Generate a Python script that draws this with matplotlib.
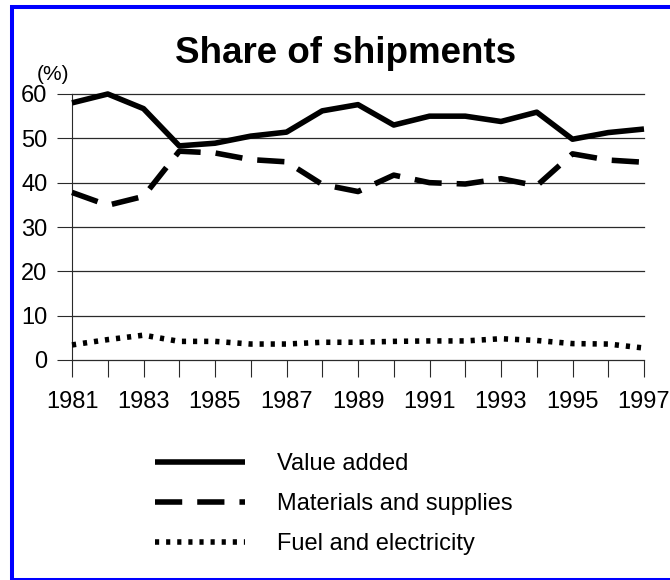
import matplotlib
matplotlib.use("Agg")
import matplotlib.pyplot as plt
from matplotlib.lines import Line2D

plt.rcParams['font.family'] = ['Liberation Sans', 'DejaVu Sans']

years = list(range(1981, 1998))
value_added = [58, 60, 56.7, 48.3, 48.9, 50.5, 51.4, 56.2, 57.6, 53, 55, 55, 53.8, 55.9, 49.8, 51.3, 52.1]
materials = [37.8, 34.9, 36.9, 47.1, 46.7, 45.2, 44.7, 39.6, 38, 41.7, 40, 39.7, 40.9, 39.3, 46.5, 45.1, 44.6]
fuel = [3.4, 4.6, 5.6, 4.2, 4.2, 3.6, 3.6, 4.0, 4.0, 4.2, 4.3, 4.3, 4.8, 4.4, 3.7, 3.6, 2.7]
series_labels = ["Value added", "Materials and supplies", "Fuel and electricity"]
title = "Share of shipments"
yticks = [0, 10, 20, 30, 40, 50, 60]

W, H = 670, 580
fig = plt.figure(figsize=(W / 100, H / 100), dpi=100)

def px(x0, y0, x1, y1):
    return [x0 / W, 1 - y1 / H, (x1 - x0) / W, (y1 - y0) / H]

ax = fig.add_axes(px(72, 94, 644, 360))
lw = 4.0
grid_c = '#2a2a2a'

ax.plot(years, fuel, color='black', lw=lw, linestyle=(0, (0.75, 1.25)),
        dash_capstyle='butt', clip_on=False, zorder=3, label=series_labels[2])
ax.plot(years, materials, color='black', lw=lw, linestyle=(0, (4.9, 2.7)),
        dash_capstyle='butt', clip_on=False, zorder=3, label=series_labels[1])
ax.plot(years, value_added, color='black', lw=lw, solid_capstyle='butt',
        clip_on=False, zorder=4, label=series_labels[0])

ax.set_xlim(years[0], years[-1])
ax.set_ylim(0, 60)
ax.set_yticks(yticks)
ax.set_yticklabels([str(v) for v in yticks])
ax.set_xticks(years)
ax.set_xticklabels([str(y) if (y - years[0]) % 2 == 0 else '' for y in years])

for s in ['top', 'right', 'bottom']:
    ax.spines[s].set_visible(False)
ax.spines['left'].set_color(grid_c)
ax.spines['left'].set_linewidth(0.8)

ax.yaxis.grid(True, color=grid_c, lw=0.9)
ax.set_axisbelow(True)
for gl in ax.yaxis.get_gridlines():
    gl.set_clip_on(False)

ax.tick_params(axis='y', length=10.8, width=0.8, color=grid_c, pad=7, labelsize=17)
ax.tick_params(axis='x', length=12.2, width=0.8, color=grid_c, pad=10, labelsize=17)

# unit label and title
fig.text(53 / W, 1 - 74 / H, "(%)", fontsize=15, ha='center', va='center')
fig.text(346 / W, 1 - 63 / H, title, fontsize=26.5, fontweight='bold',
         ha='center', va='baseline')

# legend
handles, labels = ax.get_legend_handles_labels()
order = [2, 1, 0]
leg = fig.legend([handles[i] for i in order], [labels[i] for i in order],
                 loc='upper left', bbox_to_anchor=(155 / W, 1 - 453 / H),
                 frameon=False, fontsize=17, handlelength=3.8,
                 handletextpad=1.35, labelspacing=0.77, borderpad=0,
                 borderaxespad=0)

# blue frame (top, left, bottom; right edge lies beyond the picture)
blue = '#0000ff'
fw = 2.9
fig.add_artist(Line2D([10 / W, 1.0], [1 - 7 / H, 1 - 7 / H], color=blue, lw=fw,
                      solid_capstyle='butt', transform=fig.transFigure))
fig.add_artist(Line2D([12 / W, 12 / W], [1 - 5 / H, 0.0], color=blue, lw=fw,
                      solid_capstyle='butt', transform=fig.transFigure))
fig.add_artist(Line2D([10 / W, 1.0], [1 - 580 / H, 1 - 580 / H], color=blue, lw=fw,
                      solid_capstyle='butt', transform=fig.transFigure))

fig.savefig("out.png", dpi=100)
